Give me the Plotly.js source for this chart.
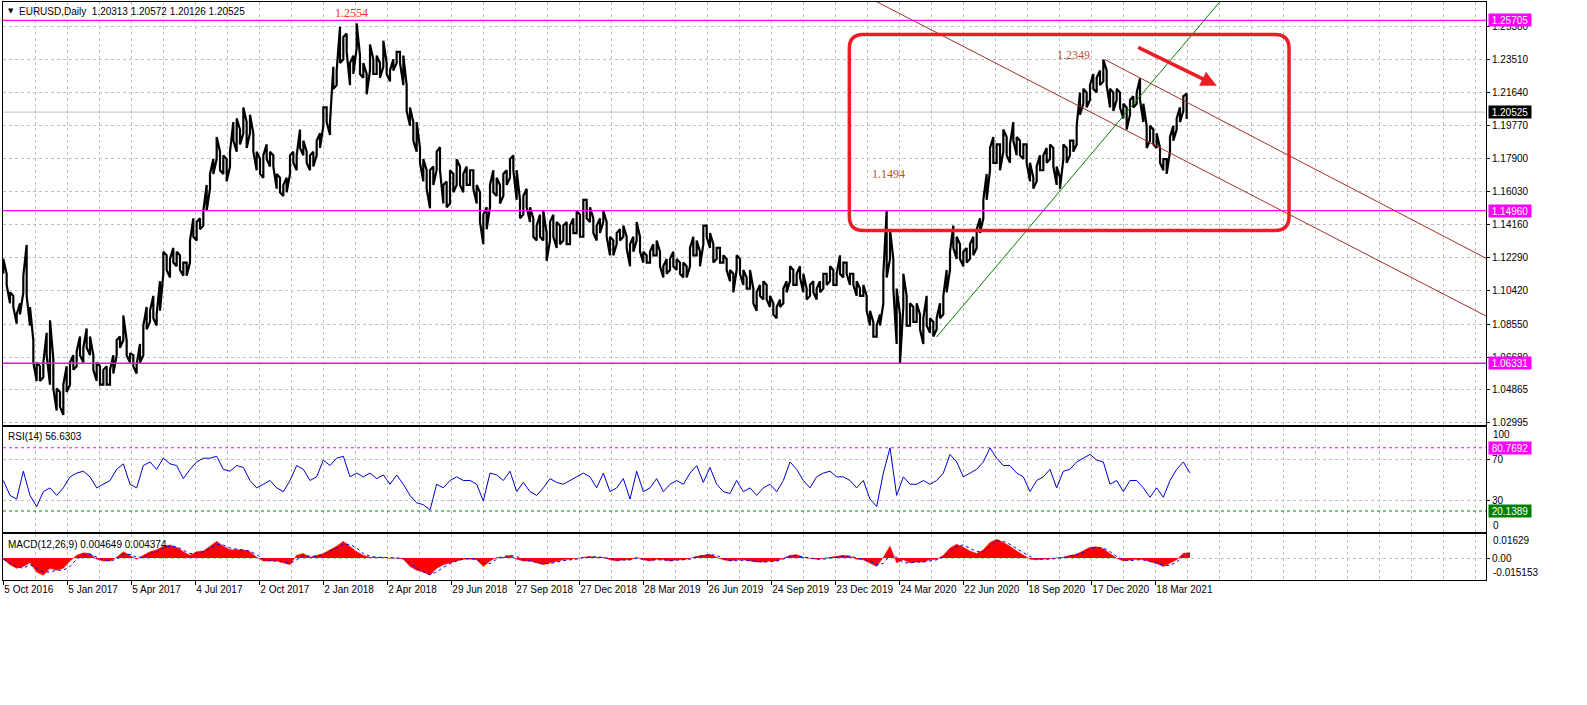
<!DOCTYPE html>
<html>
<head>
<meta charset="utf-8">
<script src="https://cdn.plot.ly/plotly-3.0.1.min.js"></script>
<style>html,body{margin:0;padding:0;background:#fff;}#chart{width:1587px;height:705px;}</style>
</head>
<body>
<div id="chart"></div>
<script>
// ---------- DATA ----------
const symbolTitle = "EURUSD,Daily";
const lastOHLC = ["1.20313", "1.20572", "1.20126", "1.20525"];
const lastPrice = 1.20525;

// sampled daily price envelope (every 10/3 bars), highs and lows
const priceHigh = [
1.1223,1.1139,1.1034,1.1014,1.0909,1.0972,1.1128,1.1302,1.0951,1.0763,
1.0637,1.0616,1.0637,1.0805,1.0876,1.0658,1.0491,1.0470,1.0512,1.0616,
1.0637,1.0679,1.0700,1.0784,1.0721,1.0830,1.0784,1.0679,1.0637,1.0616,
1.0596,1.0616,1.0596,1.0679,1.0763,1.0784,1.0903,1.0763,1.0690,1.0679,
1.0627,1.0742,1.0846,1.0951,1.0930,1.1014,1.0909,1.1097,1.1264,1.1243,
1.1223,1.1285,1.1264,1.1243,1.1202,1.1202,1.1327,1.1452,1.1432,1.1452,
1.1494,1.1641,1.1703,1.1787,1.1912,1.1829,1.1808,1.1787,1.1829,1.1996,
1.2017,1.1954,1.2079,1.1996,1.2038,1.1933,1.1829,1.1787,1.1808,1.1870,
1.1829,1.1808,1.1703,1.1682,1.1641,1.1682,1.1808,1.1829,1.1808,1.1954,
1.1891,1.1829,1.1808,1.1829,1.1891,1.1933,1.2079,1.2079,1.1996,1.2309,
1.2288,1.2535,1.2477,1.2497,1.2330,1.2372,1.2554,1.2372,1.2330,1.2268,
1.2435,1.2351,1.2372,1.2330,1.2456,1.2330,1.2288,1.2351,1.2393,1.2393,
1.2372,1.2205,1.2079,1.1996,1.1996,1.1850,1.1787,1.1724,1.1724,1.1745,
1.1829,1.1854,1.1641,1.1661,1.1724,1.1703,1.1787,1.1745,1.1703,1.1745,
1.1724,1.1724,1.1641,1.1599,1.1473,1.1515,1.1641,1.1724,1.1682,1.1641,
1.1703,1.1724,1.1787,1.1808,1.1724,1.1557,1.1578,1.1620,1.1515,1.1452,
1.1411,1.1473,1.1494,1.1369,1.1432,1.1473,1.1432,1.1411,1.1411,1.1432,
1.1411,1.1452,1.1494,1.1473,1.1557,1.1557,1.1515,1.1452,1.1411,1.1452,
1.1494,1.1432,1.1348,1.1327,1.1369,1.1390,1.1411,1.1348,1.1306,1.1348,
1.1432,1.1348,1.1264,1.1243,1.1264,1.1306,1.1327,1.1264,1.1181,1.1223,
1.1223,1.1264,1.1223,1.1202,1.1202,1.1181,1.1285,1.1348,1.1327,1.1264,
1.1411,1.1411,1.1369,1.1306,1.1285,1.1285,1.1243,1.1223,1.1160,1.1139,
1.1243,1.1223,1.1160,1.1118,1.1160,1.1055,1.1034,1.1076,1.1097,1.1076,
1.1014,1.0972,1.0951,1.0993,1.1055,1.1097,1.1181,1.1160,1.1139,1.1181,
1.1139,1.1055,1.1076,1.1097,1.1055,1.1097,1.1139,1.1139,1.1181,1.1160,
1.1139,1.1243,1.1202,1.1202,1.1139,1.1139,1.1097,1.1055,1.1076,1.1014,
1.0930,1.0867,1.0846,1.0909,1.1139,1.1494,1.1390,1.1223,1.1055,1.0909,
1.1139,1.1014,1.0972,1.0951,1.0972,1.0909,1.0888,1.1014,1.0888,1.0867,
1.0888,1.0972,1.1014,1.1160,1.1264,1.1411,1.1348,1.1306,1.1264,1.1285,
1.1306,1.1348,1.1390,1.1452,1.1557,1.1703,1.1850,1.1912,1.1870,1.1870,
1.1954,1.1912,1.1870,1.1996,1.1912,1.1891,1.1870,1.1870,1.1766,1.1682,
1.1745,1.1808,1.1808,1.1850,1.1870,1.1850,1.1745,1.1682,1.1870,1.1850,
1.1891,1.1891,1.1975,1.2163,1.2184,1.2163,1.2205,1.2268,1.2247,1.2288,
1.2349,1.2288,1.2184,1.2163,1.2184,1.2163,1.2100,1.2079,1.2121,1.2142,
1.2163,1.2242,1.2100,1.1975,1.1975,1.1954,1.1933,1.1850,1.1787,1.1787,
1.1912,1.1975,1.2017,1.2079,1.2142,1.2157
];
const priceLow = [
1.1139,1.1076,1.0972,1.0951,1.0857,1.0909,1.1034,1.1014,1.0846,1.0637,
1.0533,1.0533,1.0554,1.0679,1.0512,1.0491,1.0366,1.0387,1.0341,1.0470,
1.0512,1.0596,1.0616,1.0679,1.0637,1.0721,1.0679,1.0596,1.0533,1.0512,
1.0512,1.0512,1.0512,1.0575,1.0679,1.0721,1.0763,1.0679,1.0637,1.0616,
1.0575,1.0637,1.0679,1.0825,1.0867,1.0888,1.0846,1.0930,1.1139,1.1160,
1.1118,1.1202,1.1181,1.1160,1.1128,1.1128,1.1202,1.1348,1.1327,1.1390,
1.1411,1.1494,1.1620,1.1703,1.1787,1.1724,1.1703,1.1661,1.1745,1.1891,
1.1829,1.1870,1.1933,1.1850,1.1933,1.1829,1.1724,1.1703,1.1682,1.1787,
1.1745,1.1745,1.1620,1.1599,1.1578,1.1599,1.1703,1.1766,1.1724,1.1850,
1.1808,1.1766,1.1724,1.1745,1.1808,1.1850,1.1975,1.1996,1.1923,1.2184,
1.2205,1.2330,1.2351,1.2393,1.2205,1.2268,1.2414,1.2268,1.2247,1.2153,
1.2288,1.2268,1.2268,1.2247,1.2309,1.2268,1.2226,1.2288,1.2330,1.2330,
1.2205,1.2059,1.1975,1.1891,1.1829,1.1766,1.1661,1.1620,1.1509,1.1641,
1.1724,1.1724,1.1536,1.1515,1.1536,1.1599,1.1641,1.1641,1.1599,1.1641,
1.1641,1.1620,1.1536,1.1432,1.1306,1.1390,1.1515,1.1599,1.1578,1.1536,
1.1578,1.1641,1.1682,1.1724,1.1557,1.1452,1.1473,1.1515,1.1432,1.1348,
1.1327,1.1348,1.1327,1.1212,1.1327,1.1348,1.1285,1.1306,1.1327,1.1306,
1.1306,1.1369,1.1369,1.1348,1.1348,1.1452,1.1432,1.1369,1.1327,1.1369,
1.1432,1.1348,1.1243,1.1243,1.1306,1.1327,1.1348,1.1285,1.1181,1.1264,
1.1327,1.1264,1.1202,1.1202,1.1202,1.1243,1.1243,1.1181,1.1118,1.1139,
1.1160,1.1181,1.1160,1.1139,1.1118,1.1118,1.1181,1.1243,1.1243,1.1181,
1.1306,1.1348,1.1285,1.1202,1.1223,1.1202,1.1202,1.1160,1.1097,1.1034,
1.1160,1.1139,1.1076,1.1055,1.1055,1.0972,1.0930,1.1014,1.0993,1.0993,
1.0951,1.0909,1.0888,1.0951,1.0972,1.1034,1.1097,1.1076,1.1076,1.1118,
1.1034,1.0993,1.1014,1.1034,1.0993,1.1034,1.1055,1.1076,1.1097,1.1076,
1.1076,1.1139,1.1118,1.1139,1.1076,1.1076,1.1014,1.1014,1.1014,1.0930,
1.0846,1.0784,1.0784,1.0846,1.0972,1.1118,1.1223,1.1055,1.0742,1.0633,
1.0951,1.0846,1.0846,1.0867,1.0867,1.0825,1.0742,1.0846,1.0805,1.0784,
1.0825,1.0888,1.0909,1.1034,1.1160,1.1285,1.1223,1.1223,1.1181,1.1202,
1.1223,1.1243,1.1285,1.1369,1.1452,1.1557,1.1724,1.1766,1.1766,1.1724,
1.1829,1.1808,1.1766,1.1891,1.1808,1.1808,1.1787,1.1766,1.1661,1.1620,
1.1661,1.1724,1.1724,1.1766,1.1787,1.1745,1.1641,1.1620,1.1787,1.1766,
1.1808,1.1829,1.1870,1.2038,1.2100,1.2079,1.2121,1.2184,1.2163,1.2205,
1.2226,1.2205,1.2079,1.2059,1.2121,1.2079,1.2017,1.1954,1.2038,1.2079,
1.2100,1.2121,1.1996,1.1850,1.1891,1.1870,1.1850,1.1766,1.1724,1.1703,
1.1829,1.1891,1.1954,1.1996,1.2059,1.2013
];
const PRICE_STEP = 10 / 3;   // bars between price samples

// RSI(14), sampled every 20/3 bars
const rsiValues = [
49.4,35.1,31.6,58.3,35.1,24.4,38.7,42.3,35.1,42.3,52.9,56.5,58.3,52.9,42.3,45.8,49.4,60.1,65.4,45.8,
42.3,63.7,67.2,60.1,70.8,65.4,63.7,51.2,60.1,67.2,70.8,70.8,72.6,60.1,58.3,63.7,61.9,49.4,42.3,45.8,
49.4,42.3,38.7,49.4,63.7,60.1,49.4,52.9,69.0,63.7,70.8,72.6,52.9,56.5,52.9,56.5,51.2,54.7,45.8,54.7,
45.8,35.1,28.0,26.2,20.9,45.8,42.3,49.4,52.9,49.4,49.4,45.8,29.8,56.5,54.7,49.4,58.3,38.7,47.6,38.7,
35.1,42.3,51.2,47.6,45.8,49.4,52.9,56.5,52.9,42.3,56.5,38.7,42.3,51.2,31.6,58.3,38.7,42.3,51.2,38.7,
45.8,49.4,45.8,56.5,63.7,47.6,61.9,45.8,38.7,36.9,49.4,38.7,42.3,35.1,42.3,45.8,38.7,49.4,67.2,60.1,
49.4,42.3,52.9,56.5,58.3,52.9,52.9,49.4,42.3,49.4,31.6,24.4,56.5,80.7,35.1,52.9,45.8,45.8,49.4,45.8,
49.4,56.5,74.4,67.2,52.9,56.5,60.1,67.2,80.7,70.8,63.7,63.7,56.5,52.9,38.7,49.4,52.9,60.1,42.3,58.3,
60.1,67.2,70.8,74.4,69.0,67.2,45.8,49.4,38.7,49.4,49.4,42.3,33.3,42.3,33.3,49.4,60.1,67.2,56.63
];
const rsiLevelHigh = 80.7692;
const rsiLevelLow = 20.1389;

// MACD(12,26,9) main (histogram) and signal, sampled every 20/3 bars
const macdMain = [
-0.0010,-0.0058,-0.0090,-0.0074,-0.0042,-0.0122,-0.0150,-0.0090,-0.0106,-0.0090,
-0.0026,0.0023,0.0045,0.0039,-0.0010,-0.0026,-0.0026,0.0006,0.0055,0.0023,
-0.0010,0.0023,0.0055,0.0071,0.0103,0.0113,0.0093,0.0055,0.0023,0.0055,
0.0061,0.0103,0.0145,0.0103,0.0071,0.0071,0.0071,0.0055,0.0006,-0.0026,
-0.0026,-0.0026,-0.0042,-0.0058,0.0023,0.0039,0.0006,0.0023,0.0039,0.0071,
0.0103,0.0145,0.0103,0.0055,0.0023,0.0006,0.0006,0.0006,-0.0003,0.0000,
-0.0010,-0.0074,-0.0106,-0.0122,-0.0150,-0.0090,-0.0058,-0.0042,-0.0026,-0.0010,
-0.0010,-0.0016,-0.0074,-0.0026,0.0006,0.0006,0.0023,-0.0010,-0.0026,-0.0026,
-0.0042,-0.0058,-0.0042,-0.0026,-0.0016,-0.0010,-0.0003,0.0006,0.0013,0.0006,
0.0006,-0.0016,-0.0026,-0.0016,-0.0016,0.0006,-0.0016,-0.0026,-0.0010,-0.0016,
-0.0026,-0.0016,-0.0016,-0.0003,0.0016,0.0023,0.0032,0.0006,-0.0016,-0.0026,
-0.0016,-0.0016,-0.0026,-0.0035,-0.0035,-0.0026,-0.0026,-0.0003,0.0023,0.0029,
0.0006,-0.0003,-0.0010,-0.0003,0.0006,0.0016,0.0023,0.0016,-0.0010,-0.0016,
-0.0042,-0.0074,0.0006,0.0103,-0.0042,-0.0016,-0.0042,-0.0035,-0.0035,-0.0016,
-0.0010,0.0023,0.0087,0.0119,0.0093,0.0061,0.0039,0.0071,0.0135,0.0163,
0.0135,0.0103,0.0061,0.0029,-0.0010,-0.0016,-0.0010,-0.0003,-0.0003,0.0006,
0.0023,0.0032,0.0064,0.0093,0.0097,0.0081,0.0039,-0.0003,-0.0026,-0.0016,
-0.0010,-0.0016,-0.0035,-0.0048,-0.0074,-0.0048,-0.0016,0.0042,0.004649
];
const macdSignal = [
-0.0010,-0.0042,-0.0074,-0.0090,-0.0058,-0.0090,-0.0122,-0.0122,-0.0106,-0.0106,
-0.0074,-0.0010,0.0023,0.0032,0.0006,-0.0016,-0.0026,-0.0010,0.0032,0.0032,
0.0006,0.0006,0.0039,0.0055,0.0087,0.0103,0.0097,0.0071,0.0039,0.0039,
0.0055,0.0081,0.0119,0.0113,0.0087,0.0077,0.0071,0.0061,0.0029,-0.0010,
-0.0026,-0.0026,-0.0035,-0.0048,-0.0016,0.0023,0.0016,0.0016,0.0029,0.0055,
0.0087,0.0119,0.0119,0.0087,0.0039,0.0016,0.0006,0.0006,0.0000,0.0000,
-0.0003,-0.0042,-0.0090,-0.0122,-0.0145,-0.0122,-0.0081,-0.0048,-0.0026,-0.0010,
-0.0003,-0.0010,-0.0048,-0.0048,-0.0010,0.0013,0.0023,0.0013,-0.0016,-0.0026,
-0.0035,-0.0048,-0.0048,-0.0035,-0.0023,-0.0016,-0.0010,0.0003,0.0010,0.0010,
0.0006,-0.0003,-0.0019,-0.0019,-0.0016,-0.0003,-0.0010,-0.0019,-0.0016,-0.0016,
-0.0023,-0.0019,-0.0016,-0.0010,0.0006,0.0023,0.0029,0.0023,-0.0003,-0.0023,
-0.0023,-0.0019,-0.0023,-0.0032,-0.0035,-0.0032,-0.0026,-0.0010,0.0013,0.0023,
0.0006,0.0000,-0.0010,-0.0010,0.0000,0.0010,0.0016,0.0016,0.0000,-0.0010,
-0.0026,-0.0058,-0.0048,0.0023,0.0006,-0.0042,-0.0042,-0.0035,-0.0035,-0.0026,
-0.0016,0.0006,0.0055,0.0103,0.0113,0.0081,0.0055,0.0055,0.0103,0.0151,
0.0145,0.0119,0.0081,0.0048,0.0013,-0.0010,-0.0010,-0.0010,-0.0003,0.0003,
0.0016,0.0029,0.0048,0.0081,0.0093,0.0087,0.0055,0.0013,-0.0016,-0.0023,
-0.0016,-0.0016,-0.0026,-0.0042,-0.0064,-0.0064,-0.0035,0.0013,0.004374
];
const IND_STEP = 20 / 3;     // bars between indicator samples

// axes
const priceTickVals = [1.25380,1.23510,1.21640,1.19770,1.17900,1.16030,1.14160,1.12290,1.10420,1.08550,1.06680,1.04865,1.02995];
const priceTickText = ["1.25380","1.23510","1.21640","1.19770","1.17900","1.16030","1.14160","1.12290","1.10420","1.08550","1.06680","1.04865","1.02995"];
const dateLabels = ["5 Oct 2016","5 Jan 2017","5 Apr 2017","4 Jul 2017","2 Oct 2017","2 Jan 2018","2 Apr 2018","29 Jun 2018","27 Sep 2018","27 Dec 2018","28 Mar 2019","26 Jun 2019","24 Sep 2019","23 Dec 2019","24 Mar 2020","22 Jun 2020","18 Sep 2020","17 Dec 2020","18 Mar 2021"];
const BARS_PER_LABEL = 64;

// drawn objects (bar index, price)
const horizontalLevels = [1.25705, 1.14960, 1.06331];
const horizontalLevelText = ["1.25705", "1.14960", "1.06331"];
const channelUpperX = [1101.7, 1482.7], channelUpperY = [1.2349, 1.12263];
const channelLowerX = [936.7, 1482.7],  channelLowerY = [1.24917, 1.09002];
const trendUpX = [933.3, 1240], trendUpY = [1.07815, 1.28333];
const boxX = [846, 1285.7], boxY = [1.13840, 1.24917];
const boxRadiusBars = 14, boxRadiusPrice = 0.0079;
const arrowX = [1133.4, 1213.4], arrowY = [1.24222, 1.22018];
const priceNotes = [
  {x: 348, y: 1.26140, text: "1.2554", color: "#FF2a2a"},
  {x: 1070, y: 1.23753, text: "1.2349", color: "#B0542E"},
  {x: 885, y: 1.17028, text: "1.1494", color: "#B0542E"}
];

// ---------- BUILD ----------
const priceX = priceHigh.map((_, i) => i * PRICE_STEP);
// vertical hi-lo strokes joined alternately along highs and lows (bar-chart texture)
const barX = [], barY = [];
priceX.forEach((x, i) => {
  if (i % 2 === 0) { barX.push(x, x); barY.push(priceLow[i], priceHigh[i]); }
  else { barX.push(x, x); barY.push(priceHigh[i], priceLow[i]); }
});
const indX = rsiValues.map((_, i) => i * IND_STEP);
const dateBars = dateLabels.map((_, i) => i * BARS_PER_LABEL);

const XR = [-0.33, 1482.67];
const FONT = 'Tahoma, "Liberation Sans", Arial, sans-serif';
const GRID = '#C0C0C0';
const DASH = '3px,3px';

const traces = [
  {type:'scatter', mode:'lines', x:barX, y:barY, line:{color:'#000000', width:2.2},
   xaxis:'x', yaxis:'y', hoverinfo:'skip'},
  {type:'scatter', mode:'lines', x:indX, y:rsiValues, line:{color:'#0000CD', width:1},
   xaxis:'x2', yaxis:'y2', hoverinfo:'skip'},
  {type:'scatter', mode:'lines', x:indX, y:macdMain, fill:'tozeroy', fillcolor:'#FF0000',
   line:{color:'#FF0000', width:0.5}, xaxis:'x3', yaxis:'y3', hoverinfo:'skip'},
  {type:'scatter', mode:'lines', x:indX, y:macdSignal, line:{color:'#0000FF', width:1, dash:DASH},
   xaxis:'x3', yaxis:'y3', hoverinfo:'skip'}
];

function xax(anchor, labels) {
  return {
    anchor: anchor, range: XR, showline: true, mirror: true, linecolor: '#000', linewidth: 1,
    zeroline: false, tickmode: 'array', tickvals: dateBars, ticktext: dateLabels,
    showticklabels: labels, ticks: labels ? 'outside' : '', ticklen: 4, tickcolor: '#000',
    tickangle: 0, automargin: false,
    ticklabelposition: 'outside right', tickfont: {family: FONT, size: 10, color: '#000'},
    showgrid: true, gridcolor: GRID, griddash: DASH, gridwidth: 1,
    minor: {tickmode: 'linear', tick0: 0, dtick: 32, showgrid: true, gridcolor: GRID, griddash: DASH, ticks: ''}
  };
}
function yax(anchor, domain, range, vals, text) {
  return {
    anchor: anchor, domain: domain, range: range, side: 'right', showline: true, mirror: true,
    linecolor: '#000', linewidth: 1, zeroline: false, tickmode: 'array', tickvals: vals, ticktext: text,
    ticks: 'outside', ticklen: 3, tickcolor: '#000', tickfont: {family: FONT, size: 10, color: '#000'},
    showgrid: true, gridcolor: GRID, griddash: DASH, gridwidth: 1, automargin: false
  };
}

const shapes = [];
shapes.push({type:'line', xref:'x domain', yref:'y', x0:0, x1:1, y0:lastPrice, y1:lastPrice,
  line:{color:'#C0C0C0', width:1}, layer:'below'});
horizontalLevels.forEach(v => shapes.push({type:'line', xref:'x domain', yref:'y', x0:0, x1:1, y0:v, y1:v,
  line:{color:'#FF00FF', width:1.3}}));
shapes.push({type:'line', xref:'x2 domain', yref:'y2', x0:0, x1:1, y0:rsiLevelHigh, y1:rsiLevelHigh,
  line:{color:'#FF00FF', width:1, dash:DASH}});
shapes.push({type:'line', xref:'x2 domain', yref:'y2', x0:0, x1:1, y0:rsiLevelLow, y1:rsiLevelLow,
  line:{color:'#008000', width:1, dash:DASH}});
shapes.push({type:'line', xref:'x', yref:'y', x0:channelUpperX[0], x1:channelUpperX[1], y0:channelUpperY[0], y1:channelUpperY[1],
  line:{color:'#A0302A', width:1}});
const slopeL = (channelLowerY[1]-channelLowerY[0])/(channelLowerX[1]-channelLowerX[0]);
shapes.push({type:'line', xref:'x', yref:'y', x0:channelLowerX[0]-80, x1:channelLowerX[1],
  y0:channelLowerY[0]-80*slopeL, y1:channelLowerY[1], line:{color:'#A0302A', width:1}});
shapes.push({type:'line', xref:'x', yref:'y', x0:trendUpX[0], x1:trendUpX[1], y0:trendUpY[0], y1:trendUpY[1],
  line:{color:'#008000', width:1}});
{
  const L=boxX[0], R=boxX[1], B=boxY[0], T=boxY[1], rx=boxRadiusBars, ry=boxRadiusPrice;
  const p = `M ${L+rx},${T} L ${R-rx},${T} Q ${R},${T} ${R},${T-ry} L ${R},${B+ry} Q ${R},${B} ${R-rx},${B} ` +
            `L ${L+rx},${B} Q ${L},${B} ${L},${B+ry} L ${L},${T-ry} Q ${L},${T} ${L+rx},${T} Z`;
  shapes.push({type:'path', xref:'x', yref:'y', path:p, line:{color:'#EE1C24', width:3.5}});
}

const PLOT_TOP = 2, PLOT_BOTTOM = 580, PLOT_H = PLOT_BOTTOM - PLOT_TOP;
const py = v => (PLOT_BOTTOM - v) / PLOT_H;

const annotations = [];
const txt = (o) => annotations.push(Object.assign({showarrow:false, font:{family:FONT, size:10, color:'#000'}}, o));
txt({xref:'paper', yref:'paper', x:0, xshift:3, y:py(11), xanchor:'left', yanchor:'middle', text:'▼', font:{family:'"DejaVu Sans"', size:7, color:'#000'}});
txt({xref:'paper', yref:'paper', x:0, xshift:14, y:py(11), xanchor:'left', yanchor:'middle',
     text: symbolTitle + '  ' + lastOHLC.join(' ')});
txt({xref:'paper', yref:'paper', x:0, xshift:3, y:py(436), xanchor:'left', yanchor:'middle', text:'RSI(14) 56.6303'});
txt({xref:'paper', yref:'paper', x:0, xshift:3, y:py(544), xanchor:'left', yanchor:'middle', text:'MACD(12,26,9) 0.004649 0.004374'});
txt({xref:'paper', yref:'paper', x:1, xshift:5, y:py(434), xanchor:'left', yanchor:'middle', text:'100'});
txt({xref:'paper', yref:'paper', x:1, xshift:5, y:py(525), xanchor:'left', yanchor:'middle', text:'0'});
txt({xref:'paper', yref:'paper', x:1, xshift:5, y:py(540.7), xanchor:'left', yanchor:'middle', text:'0.01629'});
txt({xref:'paper', yref:'paper', x:1, xshift:5, y:py(572.7), xanchor:'left', yanchor:'middle', text:'-0.015153'});
const boxLabel = (yref, y, text, bg) => txt({xref:'paper', yref:yref, x:1, xshift:1.5, y:y, xanchor:'left', yanchor:'middle',
  text:text, bgcolor:bg, borderpad:0, width:42, height:12, align:'center', font:{family:FONT, size:10, color:'#FFFFFF'}});
horizontalLevels.forEach((v,i) => boxLabel('y', v, horizontalLevelText[i], '#FF00FF'));
boxLabel('y', lastPrice, '1.20525', '#000000');
boxLabel('y2', rsiLevelHigh, '80.7692', '#FF00FF');
boxLabel('y2', rsiLevelLow, '20.1389', '#008000');
priceNotes.forEach(n => txt({xref:'x', yref:'y', x:n.x, y:n.y, text:n.text, xanchor:'center', yanchor:'middle',
  font:{family:'"Liberation Serif", "Times New Roman", serif', size:12, color:n.color}}));
annotations.push({xref:'x', yref:'y', axref:'x', ayref:'y', x:arrowX[1], y:arrowY[1], ax:arrowX[0], ay:arrowY[0],
  text:'', showarrow:true, arrowcolor:'#EE1C24', arrowwidth:3.5, arrowhead:2, arrowsize:0.9, standoff:0, startstandoff:0});

const layout = {
  width:1587, height:705, margin:{l:3, r:101, t:PLOT_TOP, b:705-PLOT_BOTTOM, pad:0},
  paper_bgcolor:'#FFFFFF', plot_bgcolor:'#FFFFFF', showlegend:false,
  font:{family:FONT, size:10, color:'#000'},
  xaxis: xax('y', false), xaxis2: xax('y2', false), xaxis3: xax('y3', true),
  yaxis: yax('x', [py(425), 1], [1.02842, 1.26748], priceTickVals, priceTickText),
  yaxis2: yax('x2', [py(532), py(427)], [0, 100.7], [70, 30], ['70', '30']),
  yaxis3: yax('x3', [0, py(534)], [-0.01913, 0.02087], [0], ['0.00']),
  shapes: shapes, annotations: annotations
};

Plotly.newPlot('chart', traces, layout, {staticPlot:true, displayModeBar:false});
</script>
</body>
</html>
